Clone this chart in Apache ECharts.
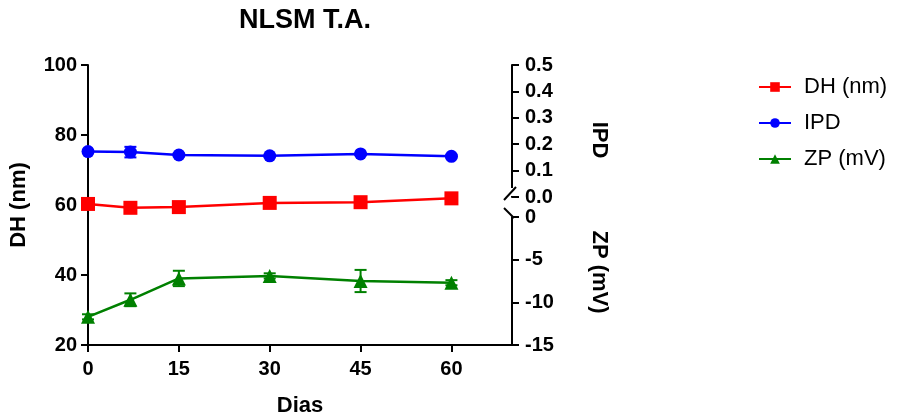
<!DOCTYPE html>
<html>
<head>
<meta charset="utf-8">
<script src="https://cdn.jsdelivr.net/npm/echarts@6/dist/echarts.min.js"></script>
<style>html,body{margin:0;padding:0;background:#fff;}#c{width:898px;height:418px;}</style>
</head>
<body>
<div id="c"></div>
<script>
var days = [0, 7, 15, 30, 45, 60];
var xTicks = [0, 15, 30, 45, 60];
var dh = [60.3, 59.2, 59.4, 60.6, 60.8, 61.9];
var dhErr = [0.4, 0.4, 0.4, 0.4, 0.4, 0.4];
var ipd = [0.172, 0.170, 0.159, 0.156, 0.163, 0.154];
var ipdErr = [0.005, 0.02, 0.005, 0.004, 0.004, 0.004];
var zp = [-11.7, -9.7, -7.2, -6.9, -7.5, -7.7];
var zpErr = [0.3, 0.75, 0.9, 0.3, 1.3, 0.3];

var FONT = 'Liberation Sans, Arial, sans-serif';
var chart = echarts.init(document.getElementById('c'));

function pairs(xs, ys) { return xs.map(function (x, i) { return [x, ys[i]]; }); }
function errData(xs, ys, es) { return xs.map(function (x, i) { return [x, ys[i] - es[i], ys[i] + es[i]]; }); }
function errSeries(xi, yi, data, color) {
  return {
    type: 'custom', xAxisIndex: xi, yAxisIndex: yi, data: data, z: 1, silent: true,
    renderItem: function (params, api) {
      var lo = api.coord([api.value(0), api.value(1)]);
      var hi = api.coord([api.value(0), api.value(2)]);
      var w = 6;
      var st = { stroke: color, lineWidth: 2 };
      return { type: 'group', children: [
        { type: 'line', shape: { x1: lo[0], y1: lo[1], x2: hi[0], y2: hi[1] }, style: st },
        { type: 'line', shape: { x1: lo[0] - w, y1: lo[1], x2: lo[0] + w, y2: lo[1] }, style: st },
        { type: 'line', shape: { x1: hi[0] - w, y1: hi[1], x2: hi[0] + w, y2: hi[1] }, style: st }
      ]};
    }
  };
}

var axisLineStyle = { show: true, onZero: false, lineStyle: { color: '#000', width: 2 } };
var tickStyle = { show: true, length: 7, lineStyle: { color: '#000', width: 2 } };
var labelStyle = { color: '#000', fontSize: 20, fontWeight: 'bold', fontFamily: FONT };
var nameStyle = { color: '#000', fontSize: 22, fontWeight: 'bold', fontFamily: FONT };

var L = 88, W = 424;
var option = {
  animation: false,
  backgroundColor: '#fff',
  title: { text: 'NLSM T.A.', left: 300, textAlign: 'center', top: 2,
    textStyle: { fontSize: 27, fontWeight: 'bold', color: '#000', fontFamily: FONT } },
  legend: {
    orient: 'vertical', left: 753, top: 71, itemWidth: 32, itemHeight: 12, itemGap: 14,
    textStyle: { fontSize: 22, color: '#000', fontFamily: FONT, padding: [0, 0, 0, 8] },
    data: ['DH (nm)', 'IPD', 'ZP (mV)']
  },
  grid: [
    { left: L, top: 65, width: W, height: 280, outerBoundsMode: 'none', containLabel: false },
    { left: L, top: 65, width: W, height: 132, outerBoundsMode: 'none', containLabel: false },
    { left: L, top: 217, width: W, height: 128, outerBoundsMode: 'none', containLabel: false }
  ],
  xAxis: [
    { gridIndex: 0, type: 'value', min: 0, max: 70, interval: 15,
      axisLine: axisLineStyle, axisTick: Object.assign({ customValues: xTicks }, tickStyle),
      axisLabel: Object.assign({ customValues: xTicks, margin: 14 }, labelStyle),
      splitLine: { show: false },
      name: 'Dias', nameLocation: 'middle', nameGap: 50, nameTextStyle: nameStyle },
    { gridIndex: 1, type: 'value', min: 0, max: 70, show: false },
    { gridIndex: 2, type: 'value', min: 0, max: 70, show: false }
  ],
  yAxis: [
    { gridIndex: 0, type: 'value', min: 20, max: 100, interval: 20, position: 'left',
      axisLine: axisLineStyle, axisTick: tickStyle, axisLabel: Object.assign({ margin: 11 }, labelStyle),
      splitLine: { show: false },
      name: 'DH (nm)', nameLocation: 'middle', nameGap: 58, nameRotate: 90, nameTextStyle: nameStyle },
    { gridIndex: 1, type: 'value', min: 0, max: 0.5, interval: 0.1, position: 'right',
      axisLine: axisLineStyle, axisTick: tickStyle,
      axisLabel: Object.assign({ margin: 13, formatter: function (v) { return v.toFixed(1); } }, labelStyle),
      splitLine: { show: false },
      name: 'IPD', nameLocation: 'middle', nameGap: 76, nameRotate: -90,
      nameTextStyle: Object.assign({ padding: [0, 0, 0, 18] }, nameStyle) },
    { gridIndex: 2, type: 'value', min: -15, max: 0, interval: 5, position: 'right',
      axisLine: axisLineStyle, axisTick: tickStyle, axisLabel: Object.assign({ margin: 13 }, labelStyle),
      splitLine: { show: false },
      name: 'ZP (mV)', nameLocation: 'middle', nameGap: 76, nameRotate: -90,
      nameTextStyle: Object.assign({ padding: [0, 18, 0, 0] }, nameStyle) }
  ],
  graphic: [
    { type: 'rect', shape: { x: 505, y: 188, width: 14, height: 8 }, style: { fill: '#fff' }, z: 100 },
    { type: 'line', shape: { x1: 504, y1: 200, x2: 516, y2: 187 }, style: { stroke: '#000', lineWidth: 2 }, z: 101 },
    { type: 'line', shape: { x1: 504, y1: 208, x2: 514, y2: 218 }, style: { stroke: '#000', lineWidth: 2 }, z: 101 }
  ],
  series: [
    errSeries(0, 0, errData(days, dh, dhErr), '#ff0000'),
    errSeries(1, 1, errData(days, ipd, ipdErr), '#0000ff'),
    errSeries(2, 2, errData(days, zp, zpErr), '#008000'),
    { name: 'DH (nm)', type: 'line', xAxisIndex: 0, yAxisIndex: 0, data: pairs(days, dh),
      symbol: 'rect', symbolSize: 14, color: '#ff0000', lineStyle: { width: 2.5 }, z: 3 },
    { name: 'IPD', type: 'line', xAxisIndex: 1, yAxisIndex: 1, data: pairs(days, ipd),
      symbol: 'circle', symbolSize: 13, color: '#0000ff', lineStyle: { width: 2.5 }, z: 3 },
    { name: 'ZP (mV)', type: 'line', xAxisIndex: 2, yAxisIndex: 2, data: pairs(days, zp),
      symbol: 'triangle', symbolSize: 14, color: '#008000', lineStyle: { width: 2.5 }, z: 3 }
  ]
};
chart.setOption(option);
</script>
</body>
</html>
